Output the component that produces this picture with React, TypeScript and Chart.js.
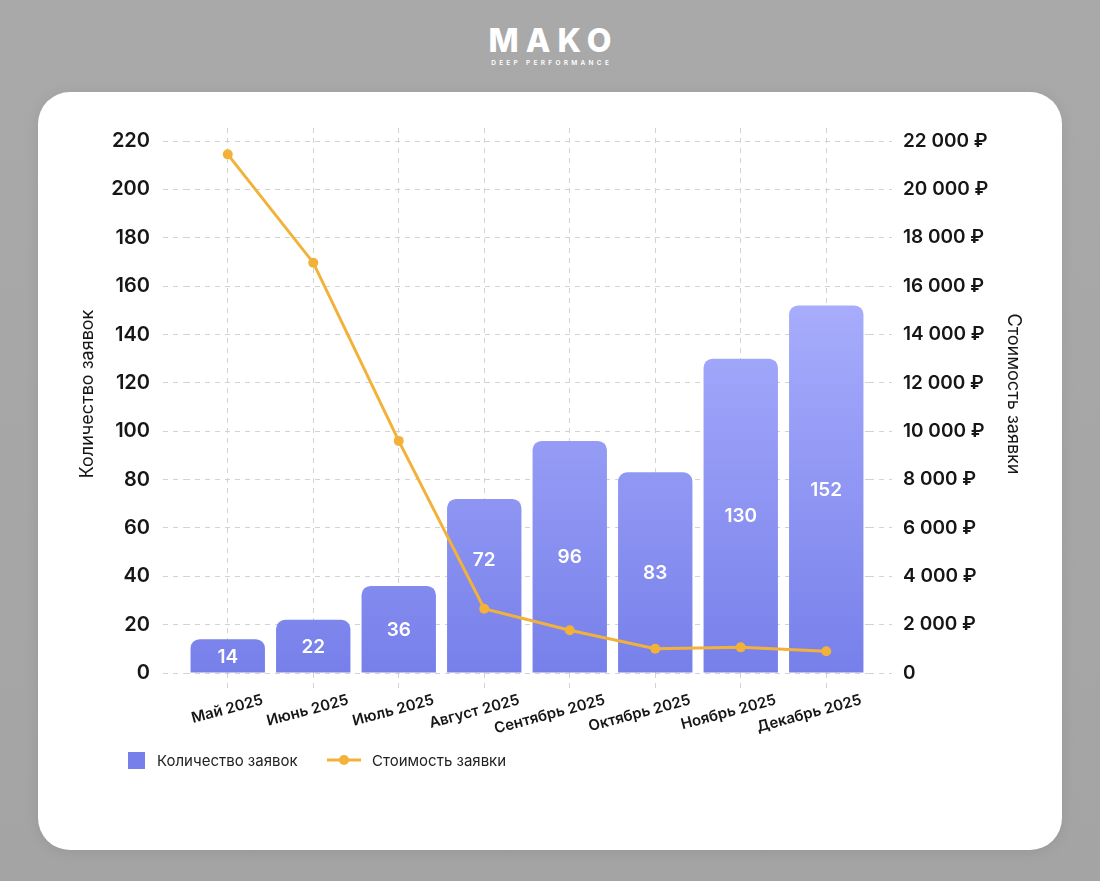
import React, { useEffect, useRef } from "react";
import { Chart, registerables } from "chart.js";

Chart.register(...registerables);

const months = ["Май 2025", "Июнь 2025", "Июль 2025", "Август 2025", "Сентябрь 2025", "Октябрь 2025", "Ноябрь 2025", "Декабрь 2025"];
const requestCounts = [14, 22, 36, 72, 96, 83, 130, 152];
const requestCosts = [21450, 16970, 9600, 2660, 1770, 1000, 1060, 900];
const leftTicks = [0, 20, 40, 60, 80, 100, 120, 140, 160, 180, 200, 220];
const rightTicks = [0, 2000, 4000, 6000, 8000, 10000, 12000, 14000, 16000, 18000, 20000, 22000];
const leftTitle = "Количество заявок";
const rightTitle = "Стоимость заявки";

const FONT = "Inter, 'DejaVu Sans', sans-serif";
const BAR_DARK = "#7780ea";
const BAR_LIGHT = "#a8adfc";
const LINE_COLOR = "#f2b23a";
const GRID = "#d2d2d2";
const TEXT = "#161616";

const fmtRub = (v: number) => {
  if (v === 0) return "0";
  const s = String(Math.round(v));
  return s.replace(/\B(?=(\d{3})+(?!\d))/g, " ") + " ₽";
};

const extrasPlugin = {
  id: "extras",
  afterDatasetsDraw(chart: any) {
    const ctx = chart.ctx;
    const meta = chart.getDatasetMeta(0);
    const lineMeta = chart.getDatasetMeta(1);
    ctx.save();
    ctx.font = `600 19px ${FONT}`;
    ctx.fillStyle = "#ffffff";
    ctx.textAlign = "center";
    ctx.textBaseline = "middle";
    meta.data.forEach((bar: any, i: number) => {
      const p = bar.getProps(["x", "y", "base"], true);
      let ly = (p.y + p.base) / 2 + 1;
      const pt = lineMeta.data[i];
      if (pt && pt.y > p.y && Math.abs(pt.y - ly) < 35) {
        ly = pt.y - 48;
      }
      ctx.fillText(String(requestCounts[i]), p.x, ly);
    });
    ctx.restore();
  },
  afterDraw(chart: any) {
    const ctx = chart.ctx;
    ctx.save();
    ctx.fillStyle = TEXT;
    ctx.font = `400 18px ${FONT}`;
    ctx.textAlign = "center";
    ctx.textBaseline = "middle";
    ctx.save();
    ctx.translate(50, 302);
    ctx.rotate(-Math.PI / 2);
    ctx.fillText(leftTitle, 0, 0);
    ctx.restore();
    ctx.save();
    ctx.translate(975, 302);
    ctx.rotate(Math.PI / 2);
    ctx.fillText(rightTitle, 0, 0);
    ctx.restore();

    const ly = 668;
    ctx.fillStyle = BAR_DARK;
    ctx.fillRect(90, ly - 8, 17, 17);
    ctx.fillStyle = "#222";
    ctx.font = `400 15px ${FONT}`;
    ctx.textAlign = "left";
    ctx.fillText(chart.data.datasets[0].label, 119, ly + 1);
    ctx.strokeStyle = LINE_COLOR;
    ctx.lineWidth = 3;
    ctx.beginPath();
    ctx.moveTo(289, ly);
    ctx.lineTo(323, ly);
    ctx.stroke();
    ctx.fillStyle = LINE_COLOR;
    ctx.beginPath();
    ctx.arc(306, ly, 5, 0, Math.PI * 2);
    ctx.fill();
    ctx.fillStyle = "#222";
    ctx.fillText(chart.data.datasets[1].label, 334, ly + 1);
    ctx.restore();
  },
};

function ChartCard() {
  const ref = useRef<HTMLCanvasElement | null>(null);
  useEffect(() => {
    if (!ref.current) return;
    const chart = new Chart(ref.current, {
      type: "bar",
      data: {
        labels: months,
        datasets: [
          {
            type: "bar",
            label: leftTitle,
            data: requestCounts,
            yAxisID: "y",
            order: 2,
            backgroundColor: (c: any) => {
              const ch = c.chart;
              const area = ch.chartArea;
              if (!area) return BAR_DARK;
              const ys = ch.scales.y;
              const g = ch.ctx.createLinearGradient(0, ys.getPixelForValue(155), 0, area.bottom);
              g.addColorStop(0, BAR_LIGHT);
              g.addColorStop(1, BAR_DARK);
              return g;
            },
            borderRadius: 9,
            borderSkipped: "bottom",
            categoryPercentage: 1,
            barPercentage: 0.87,
          },
          {
            type: "line",
            label: rightTitle,
            data: requestCosts,
            yAxisID: "y1",
            order: 1,
            borderColor: LINE_COLOR,
            backgroundColor: LINE_COLOR,
            borderWidth: 3,
            pointRadius: 5,
            pointHoverRadius: 5,
            pointBackgroundColor: LINE_COLOR,
            pointBorderWidth: 0,
            tension: 0,
          },
        ],
      },
      options: {
        responsive: false,
        animation: false,
        devicePixelRatio: 1,
        layout: { padding: { top: 36, left: 0, right: 0, bottom: 100 } },
        plugins: { legend: { display: false }, tooltip: { enabled: false } },
        scales: {
          x: {
            offset: true,
            grid: {
              offset: false,
              color: GRID,
              lineWidth: 1,
              tickLength: 17,
              tickColor: GRID,
              tickBorderDash: [5, 5],
            },
            border: { display: false, dash: [5, 5] },
            ticks: {
              color: TEXT,
              font: { family: FONT, size: 15, weight: "600" },
              minRotation: 15,
              maxRotation: 15,
              autoSkip: false,
              padding: 1,
              labelOffset: 35,
            },
            afterFit: (s: any) => {
              s.height = 77;
            },
          },
          y: {
            position: "left",
            min: 0,
            max: 225.4,
            afterBuildTicks: (s: any) => {
              s.ticks = leftTicks.map((v) => ({ value: v }));
            },
            grid: {
              color: GRID,
              tickLength: 22,
              tickColor: GRID,
              tickBorderDash: [5, 5],
            },
            border: { display: false, dash: [5, 5] },
            ticks: {
              color: TEXT,
              font: { family: FONT, size: 20, weight: "600" },
              padding: 13,
            },
            afterFit: (s: any) => {
              s.width = 147;
            },
          },
          y1: {
            position: "right",
            min: 0,
            max: 22540,
            afterBuildTicks: (s: any) => {
              s.ticks = rightTicks.map((v) => ({ value: v }));
            },
            grid: {
              drawOnChartArea: false,
              color: GRID,
              tickLength: 23,
              tickColor: GRID,
              tickBorderDash: [5, 5],
            },
            border: { display: false, dash: [5, 5] },
            ticks: {
              color: TEXT,
              font: { family: FONT, size: 19, weight: "600" },
              padding: 11,
              callback: (v: any) => fmtRub(Number(v)),
            },
            afterFit: (s: any) => {
              s.width = 193;
            },
          },
        },
      },
      plugins: [extrasPlugin],
    } as any);
    return () => chart.destroy();
  }, []);
  return <canvas ref={ref} width={1024} height={758} style={{ display: "block" }} />;
}

export default function App() {
  return (
    <div
      style={{
        position: "absolute",
        left: 0,
        top: 0,
        width: 1100,
        height: 881,
        overflow: "hidden",
        background: "linear-gradient(#a9a9a9, #a4a4a4)",
        fontFamily: FONT,
      }}
    >
      <div style={{ position: "absolute", left: 0, width: 1100, top: 24, textAlign: "center", color: "#ffffff" }}>
        <div style={{ fontSize: 32, fontWeight: 800, letterSpacing: 7, lineHeight: "34px", paddingLeft: 7 }}>MAKO</div>
        <div style={{ fontSize: 6.5, fontWeight: 600, letterSpacing: 3.3, lineHeight: "8px", marginTop: 1, paddingLeft: 3.3 }}>
          DEEP PERFORMANCE
        </div>
      </div>
      <div
        style={{
          position: "absolute",
          left: 38,
          top: 92,
          width: 1024,
          height: 758,
          background: "#ffffff",
          borderRadius: 32,
          boxShadow: "0 2px 14px rgba(0,0,0,0.08)",
          overflow: "hidden",
        }}
      >
        <ChartCard />
      </div>
    </div>
  );
}
